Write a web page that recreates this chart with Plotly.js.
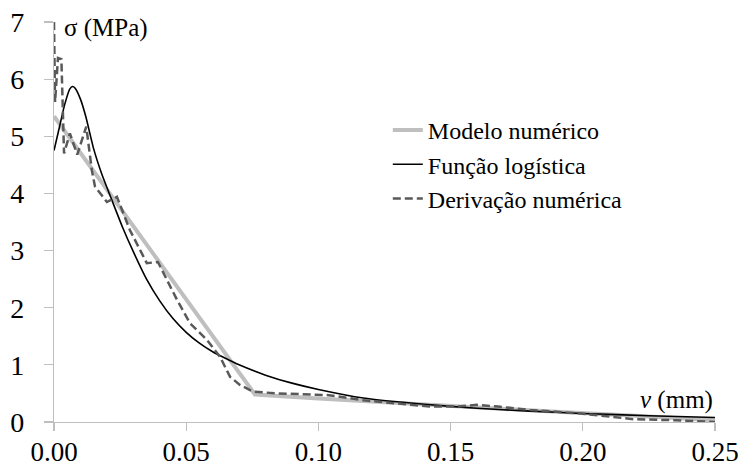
<!DOCTYPE html>
<html>
<head>
<meta charset="utf-8">
<script src="https://cdn.plot.ly/plotly-3.0.1.min.js"></script>
<style>html,body{margin:0;padding:0;background:#fff;}#chart{width:744px;height:474px;}</style>
</head>
<body>
<div id="chart"></div>
<script>
// Modelo numérico
const modeloX = [0, 0.076, 0.10, 0.13, 0.16, 0.19, 0.22, 0.25];
const modeloY = [5.35, 0.48, 0.41, 0.33, 0.26, 0.18, 0.11, 0.03];

// Função logística
const logX = [0, 0.002, 0.004, 0.006, 0.007, 0.008, 0.010, 0.012, 0.015, 0.018, 0.022, 0.026, 0.030, 0.035, 0.040, 0.045, 0.050, 0.055, 0.060, 0.065, 0.070, 0.080, 0.090, 0.100, 0.117, 0.140, 0.160, 0.180, 0.200, 0.225, 0.250];
const logY = [4.75, 5.15, 5.55, 5.83, 5.87, 5.84, 5.65, 5.35, 4.78, 4.35, 3.87, 3.40, 2.98, 2.50, 2.12, 1.81, 1.57, 1.38, 1.23, 1.11, 1.00, 0.82, 0.68, 0.57, 0.42, 0.31, 0.24, 0.19, 0.15, 0.11, 0.08];

// Derivação numérica
const derivX = [0, 0.0004, 0.0015, 0.0028, 0.0038, 0.006, 0.0088, 0.0122, 0.0143, 0.0155, 0.020, 0.0238, 0.0287, 0.0351, 0.0393, 0.0465, 0.0514, 0.0578, 0.0628, 0.0666, 0.0703, 0.0753, 0.085, 0.104, 0.117, 0.130, 0.142, 0.152, 0.160, 0.168, 0.180, 0.199, 0.210, 0.219, 0.235, 0.250];
const derivY = [7.0, 5.6, 6.37, 6.35, 4.7, 5.05, 4.68, 5.17, 4.41, 4.12, 3.85, 3.94, 3.36, 2.78, 2.80, 2.14, 1.73, 1.44, 1.14, 0.79, 0.65, 0.53, 0.50, 0.47, 0.38, 0.32, 0.27, 0.27, 0.30, 0.27, 0.21, 0.15, 0.10, 0.05, 0.03, 0.0];

const xTicks = [0, 0.05, 0.10, 0.15, 0.20, 0.25];
const yTicks = [0, 1, 2, 3, 4, 5, 6, 7];

const serif = 'Liberation Serif';

const traces = [
  {x: modeloX, y: modeloY, mode: 'lines', name: 'Modelo numérico',
   line: {color: '#bfbfbf', width: 4}},
  {x: logX, y: logY, mode: 'lines', name: 'Função logística', line: {color: '#000000', width: 1.6, shape: 'spline', smoothing: 0.5}},
  {x: derivX, y: derivY, mode: 'lines', name: 'Derivação numérica',
   line: {color: '#595959', width: 2.5, dash: '8px,4px'}}
];

const layout = {
  width: 744, height: 474,
  margin: {l: 54, r: 29, t: 22, b: 52},
  paper_bgcolor: '#ffffff', plot_bgcolor: '#ffffff',
  font: {family: serif, color: '#000000'},
  showlegend: true,
  legend: {x: 0.505, y: 0.785, xanchor: 'left', yanchor: 'top', bgcolor: 'rgba(0,0,0,0)',
           font: {family: serif, size: 24, color: '#000'}, tracegroupgap: 0},
  xaxis: {range: [0, 0.25], tickvals: xTicks, tickformat: '.2f', showgrid: false, zeroline: false,
          showline: true, linecolor: '#bfbfbf', linewidth: 1.2, ticks: 'outside', ticklen: 8,
          tickcolor: '#bfbfbf', tickwidth: 1.2, tickfont: {family: serif, size: 27, color: '#000'},
          ticklabelstandoff: -3, fixedrange: true},
  yaxis: {range: [0, 7], tickvals: yTicks, showgrid: false, zeroline: false,
          showline: true, linecolor: '#bfbfbf', linewidth: 1.2, ticks: 'outside', ticklen: 9,
          tickcolor: '#bfbfbf', tickwidth: 1.2, tickfont: {family: serif, size: 28, color: '#000'},
          ticklabelstandoff: 14, fixedrange: true},
  annotations: [
    {xref: 'paper', yref: 'paper', x: 0.012, y: 0.985, xanchor: 'left', yanchor: 'middle',
     text: 'σ (MPa)', showarrow: false, font: {family: serif, size: 25, color: '#000'}},
    {xref: 'paper', yref: 'paper', x: 1, y: 0.055, xanchor: 'right', yanchor: 'middle',
     text: '<i>v</i> (mm)', showarrow: false, font: {family: serif, size: 25, color: '#000'}}
  ]
};

Plotly.newPlot('chart', traces, layout, {displayModeBar: false, staticPlot: true});
</script>
</body>
</html>
